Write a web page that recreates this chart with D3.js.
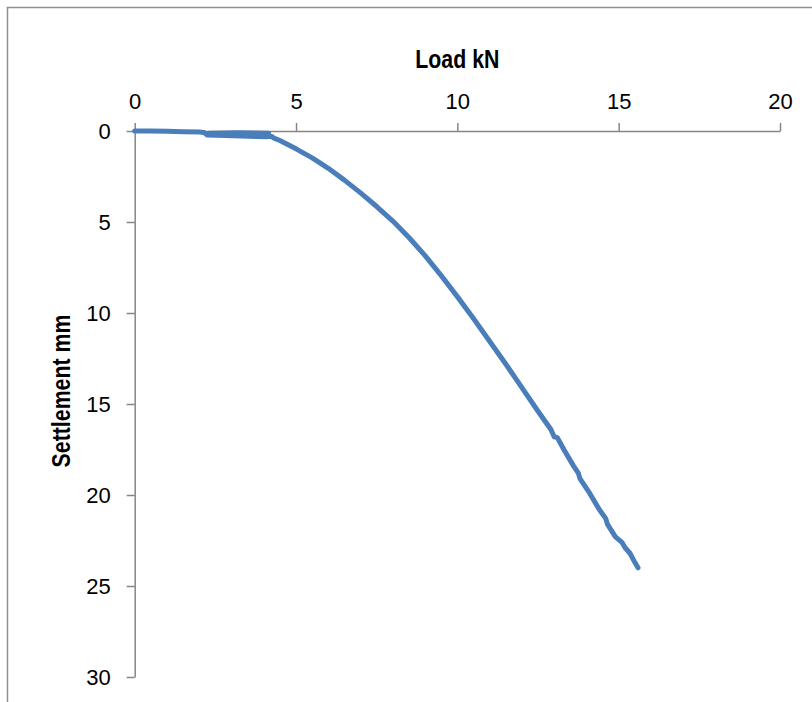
<!DOCTYPE html>
<html><head><meta charset="utf-8">
<script src="https://cdn.jsdelivr.net/npm/d3@7"></script>
<style>
html,body{margin:0;padding:0;background:#fff;}
svg{display:block;}
</style></head>
<body>
<script>
// Data (Load kN, Settlement mm)
const load = [0,0.5,1.0,1.5,2.0,2.15,2.25,2.8,3.3,3.8,4.1,4.15,3.2,2.3,2.35,3.4,4.25,4.3,
  4.5,5.0,5.5,6.0,6.5,7.0,7.5,8.0,8.5,9.0,9.5,10.0,10.5,11.0,11.5,12.0,12.5,12.9,13.0,13.1,
  13.3,13.6,13.75,13.8,14.1,14.4,14.6,14.65,14.9,15.1,15.2,15.35,15.5,15.6];
const settlement = [0,0,0.02,0.04,0.06,0.08,0.22,0.25,0.28,0.3,0.32,0.12,0.1,0.12,0.2,0.26,0.3,0.38,
  0.52,0.98,1.48,2.05,2.7,3.4,4.15,4.95,5.85,6.85,7.95,9.1,10.3,11.55,12.8,14.1,15.4,16.4,16.8,16.85,
  17.5,18.4,18.8,19.1,19.9,20.8,21.3,21.6,22.3,22.6,22.9,23.2,23.7,24.0];
const xTicks = [0,5,10,15,20];
const yTicks = [0,5,10,15,20,25,30];
const xTitle = "Load kN";
const yTitle = "Settlement mm";

const W = 812, H = 702;
const svg = d3.select("body").append("svg").attr("width", W).attr("height", H);

// outer chart frame (cropped)
svg.append("rect").attr("x", 7.5).attr("y", 7.5).attr("width", 1000).attr("height", 1000)
  .attr("fill", "none").attr("stroke", "#8f8f8f").attr("stroke-width", 1.5);

const x = d3.scaleLinear().domain([0, 20]).range([134.7, 780]);
const y = d3.scaleLinear().domain([0, 30]).range([131, 677]);

const axisColor = "#868686";
const tickFont = "'Liberation Sans', Arial, sans-serif";

const gx = svg.append("g").attr("transform", `translate(0,${y(0)})`)
  .call(d3.axisTop(x).tickValues(xTicks).tickSize(8).tickPadding(14).tickSizeOuter(0));
const gy = svg.append("g").attr("transform", `translate(${x(0)},0)`)
  .call(d3.axisLeft(y).tickValues(yTicks).tickSize(8).tickPadding(16).tickSizeOuter(0));

[gx, gy].forEach(g => {
  g.attr("font-size", null).attr("font-family", null);
  g.select(".domain").attr("stroke", axisColor).attr("stroke-width", 1.5);
  g.selectAll(".tick line").attr("stroke", axisColor).attr("stroke-width", 1.5);
  g.selectAll(".tick text").attr("fill", "#000").style("font-family", tickFont).style("font-size", "22px");
});

const data = load.map((l, i) => [l, settlement[i]]);
svg.append("path").datum(data)
  .attr("fill", "none").attr("stroke", "#4a7ebb").attr("stroke-width", 5)
  .attr("stroke-linejoin", "round").attr("stroke-linecap", "round")
  .attr("d", d3.line().x(d => x(d[0])).y(d => y(d[1])));

const titleFont = "'Liberation Sans', Arial, sans-serif";
svg.append("text").attr("transform", `translate(${(x(0) + x(20)) / 2},68) scale(0.82,1)`)
  .attr("text-anchor", "middle").style("font-family", titleFont).style("font-weight", "bold")
  .style("font-size", "26px").text(xTitle);
svg.append("text").attr("transform", `translate(70,391) rotate(-90) scale(0.82,1)`)
  .attr("text-anchor", "middle").style("font-family", titleFont).style("font-weight", "bold")
  .style("font-size", "26px").text(yTitle);
</script>
</body></html>
